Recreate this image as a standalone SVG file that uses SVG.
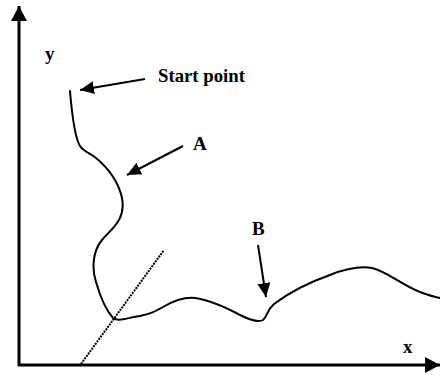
<svg xmlns="http://www.w3.org/2000/svg" width="440" height="375" viewBox="0 0 440 375">
<style>
.lbl{font-family:"Liberation Serif","Times New Roman",serif;font-weight:bold;font-size:19px;fill:#000}
.ax{stroke:#000;stroke-width:3;fill:none}
.arr{stroke:#000;stroke-width:2;fill:none}
.curve{stroke:#000;stroke-width:2;fill:none;stroke-linejoin:round;stroke-linecap:round}
.tan{stroke:#000;stroke-width:2;fill:none;stroke-dasharray:2,1}
</style>
<defs>
<marker id="ah" markerUnits="userSpaceOnUse" markerWidth="15" markerHeight="14" refX="14" refY="6.5" orient="auto" viewBox="0 0 15 13">
<path d="M0,0 L14,6.5 L0,13 z" fill="#000"/>
</marker>
<marker id="axh" markerUnits="userSpaceOnUse" markerWidth="16" markerHeight="16" refX="14" refY="7.5" orient="auto" viewBox="0 0 15 15">
<path d="M0,0 L14,7.5 L0,15 z" fill="#000"/>
</marker>
</defs>
<g id="axes">
<line class="ax" x1="19" y1="366" x2="19" y2="6" marker-end="url(#axh)"/>
<line class="ax" x1="18" y1="365" x2="440" y2="365" marker-end="url(#axh)"/>
<text class="lbl" x="45" y="60">y</text>
<text class="lbl" x="403" y="353">x</text>
</g>
<g id="curve">
<path class="curve" d="M70,91 C72,115 75,138 80,146 C84,152 90,153 96,158 C108,168 118,180 122,198 C126,220 112,228 102,240 C92,252 92,270 96,282 C100,296 106,310 113,318 C118,322 126,318 140,316 C150,314 154,312 163,307 C175,300 185,297 195,298 C210,300 225,307 240,315 C250,320 258,323 263,320 C268,316 266,311 274,304 C290,292 310,282 330,275 C345,269 360,266 372,268 C388,272 400,284 420,292 C428,295 435,297 440,298"/>
<line class="tan" x1="81" y1="364" x2="164" y2="250"/>
</g>
<g id="start-point">
<text class="lbl" x="158" y="82" textLength="87" lengthAdjust="spacingAndGlyphs">Start point</text>
</g>
<g id="label-A">
<text class="lbl" x="193" y="150">A</text>
</g>
<g id="label-B">
<text class="lbl" x="252" y="235">B</text>
</g>
<g id="connectors">
<line class="arr" x1="145" y1="79" x2="80" y2="90" marker-end="url(#ah)"/>
<line class="arr" x1="183" y1="146" x2="127" y2="175" marker-end="url(#ah)"/>
<line class="arr" x1="258" y1="245" x2="266" y2="297" marker-end="url(#ah)"/>
</g>
</svg>
